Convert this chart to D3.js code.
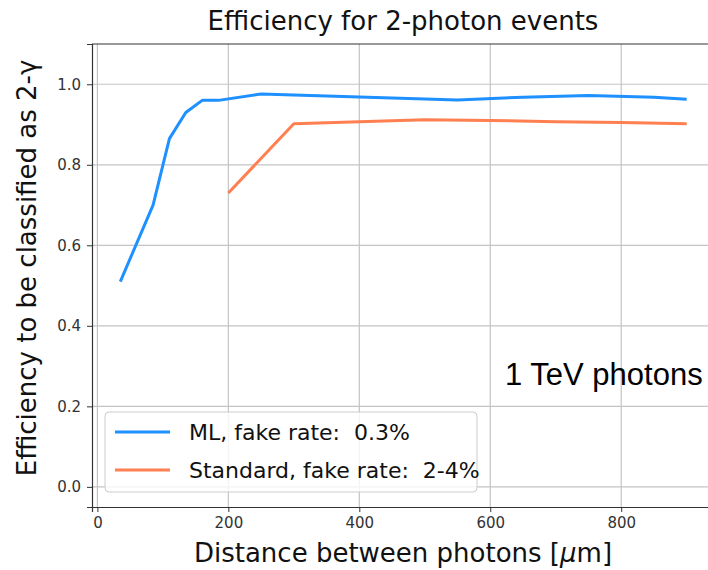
<!DOCTYPE html>
<html>
<head>
<meta charset="utf-8">
<script src="https://cdn.jsdelivr.net/npm/d3@7"></script>
<style>
  body { margin: 0; background: #fff; }
  svg text { font-family: "DejaVu Sans", sans-serif; }
</style>
</head>
<body>
<div id="chart"></div>
<script>
// ML curve
const mlX = [35, 85, 110, 135, 160, 185, 250, 350, 450, 550, 650, 750, 850, 900];
const mlY = [0.51, 0.70, 0.865, 0.93, 0.96, 0.96, 0.976, 0.971, 0.966, 0.961, 0.968, 0.972, 0.968, 0.963];
// standard reconstruction
const stdX = [200, 300, 500, 600, 700, 800, 900];
const stdY = [0.73, 0.902, 0.912, 0.910, 0.907, 0.905, 0.902];

const xTicks = [0, 200, 400, 600, 800];
const yTicks = [0.0, 0.2, 0.4, 0.6, 0.8, 1.0];
const seriesNames = ["ML, fake rate:  0.3%", "Standard, fake rate:  2-4%"];
const seriesColors = ["#1E90FF", "#FF7F50"];

const W = 708, H = 570;
const margin = {top: 44, right: -7, bottom: 63, left: 92};

const svg = d3.select("#chart").append("svg")
    .attr("width", W)
    .attr("height", H);

const x = d3.scaleLinear().domain([-8.25, 943.25]).range([margin.left, W - margin.right]);
const y = d3.scaleLinear().domain([-0.05, 1.1]).range([H - margin.bottom, margin.top]);

// grid
svg.append("g").selectAll("line")
    .data(xTicks).enter().append("line")
    .attr("x1", d => x(d)).attr("x2", d => x(d))
    .attr("y1", y.range()[1]).attr("y2", y.range()[0])
    .attr("stroke", "#c4c4c4").attr("stroke-width", 1.2);
svg.append("g").selectAll("line")
    .data(yTicks).enter().append("line")
    .attr("y1", d => y(d)).attr("y2", d => y(d))
    .attr("x1", x.range()[0]).attr("x2", x.range()[1])
    .attr("stroke", "#c4c4c4").attr("stroke-width", 1.2);

// axes
const xAxis = svg.append("g")
    .attr("transform", "translate(0," + (H - margin.bottom) + ")")
    .call(d3.axisBottom(x).tickValues(xTicks).tickSize(5).tickPadding(5).tickFormat(d3.format("d")));
const yAxis = svg.append("g")
    .attr("transform", "translate(" + margin.left + ",0)")
    .call(d3.axisLeft(y).tickValues(yTicks).tickSize(5).tickPadding(6).tickFormat(d3.format(".1f")));

[xAxis, yAxis].forEach(a => {
  a.select(".domain").attr("stroke", "#333").attr("stroke-width", 1.2);
  a.selectAll(".tick line").attr("stroke", "#333");
  a.selectAll(".tick text").attr("fill", "#333")
      .style("font-size", "15px").style("font-family", "DejaVu Sans, sans-serif");
});

// top spine
svg.append("line")
    .attr("x1", x.range()[0]).attr("x2", x.range()[1])
    .attr("y1", margin.top).attr("y2", margin.top)
    .attr("stroke", "#333").attr("stroke-width", 1.2);

// lines
const line = d3.line().x(d => x(d[0])).y(d => y(d[1]));
const series = [d3.zip(mlX, mlY), d3.zip(stdX, stdY)];
svg.append("g").selectAll("path")
    .data(series).enter().append("path")
    .attr("d", line)
    .attr("fill", "none")
    .attr("stroke", (d, i) => seriesColors[i])
    .attr("stroke-width", 3)
    .attr("stroke-linejoin", "round");

// title
svg.append("text")
    .attr("x", 403)
    .attr("y", 30)
    .attr("text-anchor", "middle")
    .style("font-size", "26px")
    .attr("fill", "#111")
    .text("Efficiency for 2-photon events");

// x label
const xl = svg.append("text")
    .attr("x", 403)
    .attr("y", 562)
    .attr("text-anchor", "middle")
    .style("font-size", "26px")
    .attr("fill", "#111");
xl.append("tspan").text("Distance between photons [");
xl.append("tspan").style("font-style", "italic").text("μ");
xl.append("tspan").text("m]");

// y label
svg.append("text")
    .attr("transform", "translate(36," + 268 + ") rotate(-90)")
    .attr("text-anchor", "middle")
    .style("font-size", "26px")
    .attr("fill", "#111")
    .text("Efficiency to be classified as 2-γ");

// legend
const lg = svg.append("g");
lg.append("rect")
    .attr("x", 105).attr("y", 412)
    .attr("width", 372).attr("height", 80)
    .attr("rx", 4)
    .attr("fill", "#fff").attr("fill-opacity", 0.8)
    .attr("stroke", "#ccc");
seriesNames.forEach((name, i) => {
  const ly = 432 + i * 38;
  lg.append("line")
      .attr("x1", 115).attr("x2", 170)
      .attr("y1", ly).attr("y2", ly)
      .attr("stroke", seriesColors[i]).attr("stroke-width", 3);
  lg.append("text")
      .attr("x", 189).attr("y", ly)
      .attr("dy", "0.36em")
      .style("font-size", "22px")
      .attr("fill", "#111")
      .style("white-space", "pre")
      .text(name);
});

// annotation
svg.append("text")
    .attr("x", 505).attr("y", 385)
    .style("font-family", "Liberation Sans, Arial, sans-serif")
    .style("font-size", "31px")
    .attr("fill", "#000")
    .text("1 TeV photons");
</script>
</body>
</html>
